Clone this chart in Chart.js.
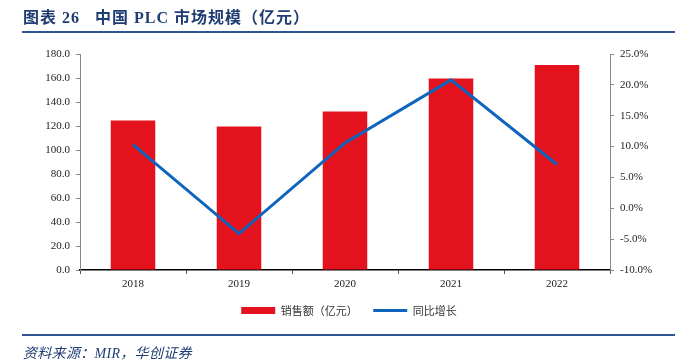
<!DOCTYPE html>
<html>
<head>
<meta charset="utf-8">
<script src="https://cdn.jsdelivr.net/npm/chart.js@4/dist/chart.umd.min.js"></script>
<style>
  body { margin: 0; background: #fff; }
  #wrap { position: relative; width: 682px; height: 362px; overflow: hidden; }
  #title {
    position: absolute; left: 23px; top: 4px;
    font-family: "Liberation Serif", "Noto Sans CJK SC", serif;
    font-weight: bold; font-size: 16px; letter-spacing: 1px; color: #1F3C73; white-space: pre;
  }
  .rule { position: absolute; left: 22px; width: 653px; height: 2px; background: #2F5597; }
  #source {
    position: absolute; left: 23px; top: 342px;
    font-family: "Liberation Serif", "Noto Sans CJK SC", serif;
    font-style: italic; font-size: 14px; letter-spacing: 0.3px; color: #1F3C73;
  }
  canvas { position: absolute; left: 0; top: 0; }
</style>
</head>
<body>
<div id="wrap">
  <canvas id="chart" width="682" height="362"></canvas>
  <div id="title">图表 26   中国 PLC 市场规模（亿元）</div>
  <div class="rule" style="top:31px"></div>
  <div class="rule" style="top:334px"></div>
  <div id="source">资料来源：MIR，华创证券</div>
</div>
<script>
// 数据（读图估算）
const years = ['2018', '2019', '2020', '2021', '2022'];
const sales = [124.6, 119.6, 132.1, 159.5, 170.8];   // 销售额（亿元）
const growth = [10.3, -4.1, 10.6, 20.8, 7.1];        // 同比增长（%）

const tickFont = { family: '"Liberation Serif", serif', size: 11 };

const ctx = document.getElementById('chart').getContext('2d');
new Chart(ctx, {
    data: {
        labels: years,
        datasets: [
            {
                type: 'line',
                label: '同比增长',
                data: growth,
                yAxisID: 'y1',
                borderColor: '#0F65BE',
                backgroundColor: '#0F65BE',
                borderWidth: 3,
                pointRadius: 0,
                pointStyle: 'line',
                tension: 0,
                order: 0
            },
            {
                type: 'bar',
                label: '销售额（亿元）',
                data: sales,
                yAxisID: 'y',
                backgroundColor: '#E3121C',
                borderWidth: 0,
                pointStyle: 'rect',
                barPercentage: 0.42,
                categoryPercentage: 1,
                order: 1
            }
        ]
    },
    options: {
        responsive: false,
        animation: false,
        layout: { padding: { left: 16, right: 0, top: 54, bottom: 36 } },
        plugins: {
            tooltip: { enabled: false },
            legend: {
                position: 'bottom',
                reverse: true,
                labels: {
                    usePointStyle: true,
                    pointStyleWidth: 34,
                    boxHeight: 7,
                    padding: 10,
                    color: '#333',
                    font: { family: '"Noto Sans CJK SC", sans-serif', size: 11 },
                    // 凡例の間隔を広げるため、棒の項目の後ろに全角スペース
                    generateLabels: chart => {
                        const items = Chart.defaults.plugins.legend.labels.generateLabels(chart);
                        items.forEach(it => { if (it.datasetIndex === 1) it.text += '\u3000'; });
                        return items;
                    }
                }
            }
        },
        scales: {
            x: {
                grid: { offset: true, drawOnChartArea: false, tickLength: 4, color: '#555' },
                border: { color: '#000', width: 1.5 },
                ticks: { color: '#222', font: tickFont, padding: 4 },
                afterFit: s => { s.height = 25; }
            },
            y: {
                position: 'left',
                min: 0, max: 180,
                ticks: { stepSize: 20, color: '#222', font: tickFont, padding: 6,
                         callback: v => v.toFixed(1) },
                grid: { drawOnChartArea: false, tickLength: 4, color: '#888' },
                border: { color: '#888' },
                afterFit: s => { s.width = 64; }
            },
            y1: {
                position: 'right',
                min: -10, max: 25,
                ticks: { stepSize: 5, color: '#222', font: tickFont, padding: 6,
                         callback: v => v.toFixed(1) + '%' },
                grid: { drawOnChartArea: false, tickLength: 4, color: '#888' },
                border: { color: '#888' },
                afterFit: s => { s.width = 72; }
            }
        }
    }
});
</script>
</body>
</html>
